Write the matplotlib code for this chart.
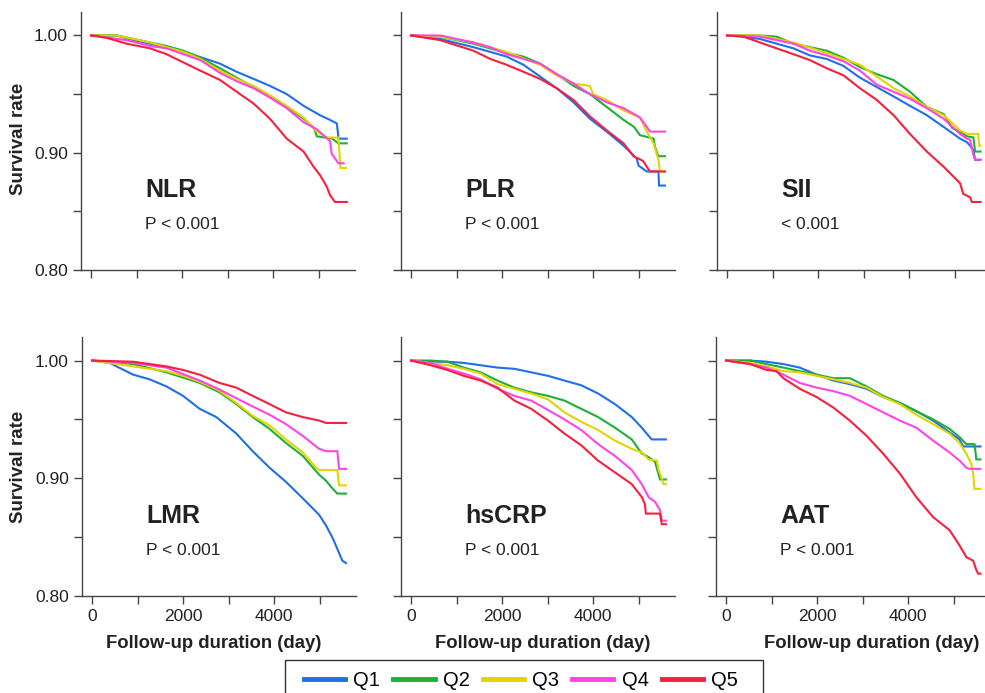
import matplotlib
matplotlib.use("Agg")
import matplotlib.pyplot as plt
from matplotlib.lines import Line2D
from matplotlib.patches import Rectangle
from matplotlib.ticker import FixedLocator

plt.rcParams['font.family'] = ['Liberation Sans', 'DejaVu Sans']

# ---- data: (follow-up day, survival) ----
groups = ['Q1', 'Q2', 'Q3', 'Q4', 'Q5']
colors = ['#1F6FE8', '#1DAF3A', '#E2D400', '#FF44E6', '#F5203E']
panel_names = ['NLR', 'PLR', 'SII', 'LMR', 'hsCRP', 'AAT']
p_texts = ['P < 0.001', 'P < 0.001', '< 0.001', 'P < 0.001', 'P < 0.001', 'P < 0.001']

NLR_Q1 = [(0, 1.000), (560, 1.000), (930, 0.996), (1660, 0.990), (2210, 0.984), (2830, 0.976), (3200, 0.969),
          (3570, 0.963), (3930, 0.957), (4300, 0.950), (4670, 0.940), (5030, 0.932), (5250, 0.928), (5400, 0.925),
          (5440, 0.912), (5620, 0.912)]
NLR_Q2 = [(0, 1.000), (560, 1.000), (930, 0.997), (1300, 0.994), (1660, 0.991), (2030, 0.987), (2400, 0.981),
          (2835, 0.972), (3200, 0.964), (3570, 0.956), (3930, 0.948), (4300, 0.939), (4670, 0.929), (4900, 0.921),
          (4960, 0.914), (5300, 0.912), (5436, 0.908), (5620, 0.908)]
NLR_Q3 = [(0, 1.000), (560, 1.000), (930, 0.997), (1300, 0.994), (1660, 0.990), (2030, 0.986), (2400, 0.980),
          (2835, 0.970), (3200, 0.963), (3570, 0.957), (3930, 0.949), (4300, 0.940), (4670, 0.930), (4960, 0.918),
          (5180, 0.913), (5436, 0.913), (5480, 0.887), (5600, 0.887)]
NLR_Q4 = [(0, 1.000), (200, 0.999), (780, 0.996), (1300, 0.991), (1660, 0.989), (2030, 0.984), (2400, 0.979),
          (2835, 0.968), (3200, 0.961), (3570, 0.955), (3930, 0.947), (4300, 0.938), (4670, 0.926), (4960, 0.920),
          (5250, 0.910), (5290, 0.899), (5436, 0.891), (5550, 0.891)]
NLR_Q5 = [(0, 1.000), (340, 0.998), (780, 0.993), (1300, 0.989), (1660, 0.984), (2030, 0.977), (2400, 0.970),
          (2835, 0.962), (3200, 0.952), (3570, 0.942), (3930, 0.929), (4300, 0.912), (4670, 0.901), (4890, 0.888),
          (5030, 0.881), (5180, 0.871), (5250, 0.864), (5360, 0.858), (5620, 0.858)]

PLR_Q1 = [(0, 1.000), (640, 0.997), (1370, 0.990), (1740, 0.986), (2100, 0.982), (2470, 0.975), (2835, 0.965),
          (3200, 0.955), (3570, 0.943), (3930, 0.929), (4300, 0.918), (4670, 0.906), (4960, 0.895), (5000, 0.889),
          (5180, 0.884), (5436, 0.884), (5450, 0.872), (5580, 0.872)]
PLR_Q2 = [(0, 1.000), (640, 0.999), (1370, 0.993), (2100, 0.985), (2470, 0.982), (2835, 0.976), (3200, 0.967),
          (3570, 0.957), (3930, 0.950), (4300, 0.939), (4670, 0.928), (4900, 0.922), (5030, 0.915), (5330, 0.912),
          (5360, 0.905), (5436, 0.897), (5580, 0.897)]
PLR_Q3 = [(0, 1.000), (640, 0.999), (1370, 0.994), (2100, 0.986), (2835, 0.975), (3200, 0.966), (3570, 0.959),
          (3930, 0.957), (4000, 0.950), (4300, 0.945), (4670, 0.936), (5030, 0.930), (5180, 0.918), (5330, 0.908),
          (5436, 0.894), (5470, 0.884), (5580, 0.884)]
PLR_Q4 = [(0, 1.000), (640, 1.000), (1370, 0.994), (1740, 0.990), (2100, 0.984), (2470, 0.980), (2835, 0.976),
          (3200, 0.967), (3570, 0.959), (3930, 0.950), (4300, 0.943), (4670, 0.938), (5030, 0.930), (5180, 0.922),
          (5250, 0.918), (5580, 0.918)]
PLR_Q5 = [(0, 1.000), (640, 0.996), (1370, 0.987), (1740, 0.980), (2100, 0.975), (2470, 0.969), (2835, 0.963),
          (3200, 0.955), (3570, 0.945), (3930, 0.931), (4300, 0.919), (4670, 0.908), (4890, 0.897), (5100, 0.893),
          (5180, 0.888), (5250, 0.884), (5580, 0.884)]

SII_Q1 = [(0, 1.000), (360, 0.999), (725, 0.997), (1460, 0.989), (1820, 0.983), (2190, 0.980), (2560, 0.974),
          (2920, 0.964), (3290, 0.956), (3660, 0.948), (4020, 0.940), (4390, 0.932), (4760, 0.922), (5120, 0.912),
          (5270, 0.909), (5340, 0.906), (5414, 0.902), (5450, 0.894), (5570, 0.894)]
SII_Q2 = [(0, 1.000), (725, 1.000), (1090, 0.999), (1460, 0.993), (2190, 0.987), (2560, 0.981), (2920, 0.973),
          (3290, 0.967), (3660, 0.962), (4020, 0.952), (4390, 0.939), (4760, 0.933), (4950, 0.921), (5120, 0.918),
          (5270, 0.914), (5414, 0.913), (5450, 0.901), (5570, 0.901)]
SII_Q3 = [(0, 1.000), (725, 1.000), (1460, 0.994), (2190, 0.985), (2920, 0.975), (3290, 0.965), (3660, 0.955),
          (4020, 0.948), (4390, 0.939), (4760, 0.932), (5120, 0.919), (5270, 0.916), (5520, 0.916), (5540, 0.906),
          (5570, 0.906)]
SII_Q4 = [(0, 1.000), (725, 0.999), (1460, 0.993), (1820, 0.987), (2190, 0.983), (2560, 0.978), (2920, 0.970),
          (3290, 0.958), (3660, 0.952), (4020, 0.946), (4390, 0.938), (4760, 0.929), (5120, 0.916), (5270, 0.912),
          (5340, 0.911), (5414, 0.898), (5450, 0.894), (5570, 0.894)]
SII_Q5 = [(0, 1.000), (360, 0.999), (725, 0.994), (1090, 0.989), (1460, 0.984), (1820, 0.979), (2190, 0.972),
          (2560, 0.966), (2920, 0.955), (3290, 0.945), (3660, 0.932), (4020, 0.916), (4390, 0.901), (4760, 0.888),
          (5120, 0.874), (5190, 0.865), (5340, 0.862), (5380, 0.858), (5570, 0.858)]

LMR_Q1 = [(0, 1.000), (390, 0.998), (540, 0.995), (905, 0.988), (1270, 0.984), (1635, 0.978), (2000, 0.970),
          (2365, 0.959), (2730, 0.952), (3170, 0.938), (3530, 0.923), (3900, 0.909), (4260, 0.897), (4630, 0.883),
          (4990, 0.869), (5140, 0.860), (5290, 0.849), (5390, 0.840), (5500, 0.830), (5580, 0.828)]
LMR_Q2 = [(0, 1.000), (905, 0.997), (1635, 0.990), (2365, 0.981), (2800, 0.973), (3170, 0.963), (3530, 0.952),
          (3900, 0.942), (4260, 0.930), (4630, 0.919), (4990, 0.903), (5140, 0.898), (5290, 0.891), (5390, 0.887),
          (5580, 0.887)]
LMR_Q3 = [(0, 1.000), (905, 0.995), (1635, 0.991), (2000, 0.987), (2365, 0.982), (2770, 0.975), (3170, 0.964),
          (3530, 0.953), (3900, 0.945), (4260, 0.933), (4630, 0.922), (4920, 0.909), (4990, 0.907), (5390, 0.907),
          (5430, 0.894), (5580, 0.894)]
LMR_Q4 = [(0, 1.000), (905, 0.998), (1635, 0.994), (2365, 0.983), (2770, 0.976), (3170, 0.968), (3530, 0.961),
          (3900, 0.954), (4260, 0.946), (4630, 0.936), (4990, 0.925), (5140, 0.923), (5390, 0.923), (5430, 0.908),
          (5580, 0.908)]
LMR_Q5 = [(0, 1.000), (905, 0.999), (1635, 0.995), (2000, 0.992), (2365, 0.988), (2800, 0.981), (3170, 0.977),
          (3530, 0.970), (3900, 0.963), (4260, 0.956), (4630, 0.952), (4990, 0.949), (5140, 0.947), (5580, 0.947)]

HSCRP_Q1 = [(0, 1.000), (430, 0.999), (800, 0.999), (1160, 0.998), (1530, 0.996), (1900, 0.994), (2270, 0.993),
            (2640, 0.990), (3010, 0.987), (3370, 0.983), (3740, 0.979), (4110, 0.972), (4480, 0.963), (4850, 0.952),
            (5070, 0.943), (5220, 0.936), (5290, 0.933), (5600, 0.933)]
HSCRP_Q2 = [(0, 1.000), (430, 1.000), (800, 0.999), (1160, 0.994), (1530, 0.990), (1900, 0.983), (2270, 0.977),
            (2640, 0.973), (3010, 0.970), (3370, 0.966), (3740, 0.959), (4110, 0.952), (4480, 0.943), (4850, 0.933),
            (5070, 0.921), (5220, 0.918), (5360, 0.914), (5470, 0.899), (5600, 0.899)]
HSCRP_Q3 = [(0, 1.000), (800, 0.996), (1160, 0.993), (1530, 0.989), (1900, 0.980), (2270, 0.976), (2640, 0.972),
            (3010, 0.967), (3370, 0.956), (3740, 0.948), (4110, 0.941), (4480, 0.932), (4850, 0.925), (5070, 0.922),
            (5220, 0.916), (5400, 0.915), (5440, 0.907), (5550, 0.895), (5600, 0.895)]
HSCRP_Q4 = [(0, 1.000), (430, 0.998), (800, 0.993), (1160, 0.989), (1530, 0.984), (1900, 0.976), (2270, 0.970),
            (2640, 0.966), (3010, 0.958), (3370, 0.950), (3740, 0.941), (4110, 0.929), (4480, 0.919), (4850, 0.907),
            (5070, 0.895), (5220, 0.884), (5360, 0.880), (5470, 0.873), (5510, 0.864), (5600, 0.864)]
HSCRP_Q5 = [(0, 1.000), (430, 0.996), (800, 0.992), (1160, 0.987), (1530, 0.983), (1900, 0.977), (2270, 0.966),
            (2640, 0.959), (3010, 0.949), (3370, 0.938), (3740, 0.928), (4110, 0.915), (4480, 0.905), (4850, 0.895),
            (5070, 0.884), (5140, 0.878), (5160, 0.870), (5470, 0.870), (5510, 0.861), (5600, 0.861)]

AAT_Q1 = [(0, 1.000), (530, 1.000), (890, 0.999), (1260, 0.997), (1620, 0.994), (1990, 0.988), (2360, 0.983),
          (2720, 0.980), (3090, 0.976), (3450, 0.969), (3820, 0.964), (4180, 0.957), (4550, 0.949), (4910, 0.939),
          (5130, 0.933), (5210, 0.927), (5590, 0.927)]
AAT_Q2 = [(0, 1.000), (530, 1.000), (890, 0.997), (1260, 0.994), (1620, 0.991), (1990, 0.988), (2360, 0.985),
          (2720, 0.985), (3090, 0.978), (3450, 0.970), (3820, 0.964), (4180, 0.957), (4550, 0.950), (4910, 0.942),
          (5130, 0.935), (5280, 0.929), (5460, 0.929), (5500, 0.916), (5590, 0.916)]
AAT_Q3 = [(0, 1.000), (530, 0.998), (890, 0.995), (1260, 0.991), (1620, 0.990), (1990, 0.987), (2360, 0.984),
          (2720, 0.981), (3090, 0.977), (3450, 0.969), (3820, 0.963), (4180, 0.954), (4550, 0.946), (4910, 0.938),
          (5130, 0.930), (5280, 0.921), (5390, 0.912), (5430, 0.904), (5460, 0.891), (5590, 0.891)]
AAT_Q4 = [(0, 1.000), (530, 0.997), (890, 0.994), (1260, 0.988), (1620, 0.981), (1990, 0.977), (2360, 0.974),
          (2720, 0.970), (3090, 0.963), (3450, 0.956), (3820, 0.949), (4180, 0.943), (4550, 0.932), (4910, 0.922),
          (5130, 0.915), (5280, 0.909), (5350, 0.908), (5590, 0.908)]
AAT_Q5 = [(0, 1.000), (530, 0.997), (890, 0.992), (1110, 0.991), (1260, 0.985), (1620, 0.976), (1990, 0.969),
          (2360, 0.960), (2720, 0.949), (3090, 0.936), (3450, 0.921), (3820, 0.904), (4180, 0.884), (4550, 0.867),
          (4910, 0.856), (5130, 0.843), (5280, 0.833), (5430, 0.830), (5500, 0.822), (5540, 0.819), (5590, 0.819)]

curves = [
    [NLR_Q1, NLR_Q2, NLR_Q3, NLR_Q4, NLR_Q5],
    [PLR_Q1, PLR_Q2, PLR_Q3, PLR_Q4, PLR_Q5],
    [SII_Q1, SII_Q2, SII_Q3, SII_Q4, SII_Q5],
    [LMR_Q1, LMR_Q2, LMR_Q3, LMR_Q4, LMR_Q5],
    [HSCRP_Q1, HSCRP_Q2, HSCRP_Q3, HSCRP_Q4, HSCRP_Q5],
    [AAT_Q1, AAT_Q2, AAT_Q3, AAT_Q4, AAT_Q5],
]

# ---- layout (pixels) ----
W, H = 985, 693
fig = plt.figure(figsize=(W / 100, H / 100), dpi=100)

col_left = [[81, 401, 717], [82, 401, 716]]
row_top = [12, 337]
row_bot = [270, 596]
ax_w = 274

axis_col = '#444444'
text_col = '#222222'

for i, name in enumerate(panel_names):
    r, c = divmod(i, 3)
    left = col_left[r][c]
    ax = fig.add_axes([left / W, 1 - row_bot[r] / H, ax_w / W, (row_bot[r] - row_top[r]) / H])

    for g, pts in enumerate(curves[i]):
        t = [p[0] for p in pts]
        s = [p[1] for p in pts]
        ax.plot(t, s, color=colors[g], lw=1.5, solid_joinstyle='miter')

    ax.set_xlim(-220, 5800)
    ax.set_ylim(0.80, 1.02)
    for sp in ['top', 'right']:
        ax.spines[sp].set_visible(False)
    for sp in ['left', 'bottom']:
        ax.spines[sp].set_color(axis_col)
        ax.spines[sp].set_linewidth(1.0)

    ax.xaxis.set_major_locator(FixedLocator([0, 1000, 2000, 3000, 4000, 5000]))
    ax.yaxis.set_major_locator(FixedLocator([0.80, 0.85, 0.90, 0.95, 1.00]))
    ax.tick_params(direction='out', length=5.5, width=1, color=axis_col,
                   labelsize=12.5, labelcolor=text_col, pad=4)

    if r == 1:
        ax.set_xticklabels(['0', '', '2000', '', '4000', ''])
    else:
        ax.set_xticklabels([])
    if c == 0:
        ax.set_yticklabels(['0.80', '', '0.90', '', '1.00'])
    else:
        ax.set_yticklabels([])

    ax.text(1190, 0.862, name, fontsize=18, fontweight='bold', color=text_col, va='baseline')
    ax.text(1190, 0.839, p_texts[i], fontsize=12.5, color=text_col, va='center')

# axis titles
for yc in [139, 467]:
    fig.text(19 / W, 1 - yc / H, 'Survival rate', rotation=90, ha='center', va='center',
             fontsize=13.5, fontweight='bold', color=text_col)
for xc in [214, 543, 872]:
    fig.text(xc / W, 1 - 643 / H, 'Follow-up duration (day)', ha='center', va='center',
             fontsize=13.3, fontweight='bold', color=text_col)

# legend
handles = [Line2D([0], [0], color=colors[g], lw=3.5) for g in range(5)]
fig.legend(handles, groups, loc='center', bbox_to_anchor=(521 / W, 1 - 681 / H), ncol=5,
           frameon=False, fontsize=14.5, handlelength=2.05, handletextpad=0.4, columnspacing=0.65)
fig.patches.append(Rectangle((285 / W, -0.02), (763 - 285) / W, (693 - 660) / H + 0.02,
                             transform=fig.transFigure, fill=False, ec='#333333', lw=1.0))

fig.savefig('out.png', dpi=100)
